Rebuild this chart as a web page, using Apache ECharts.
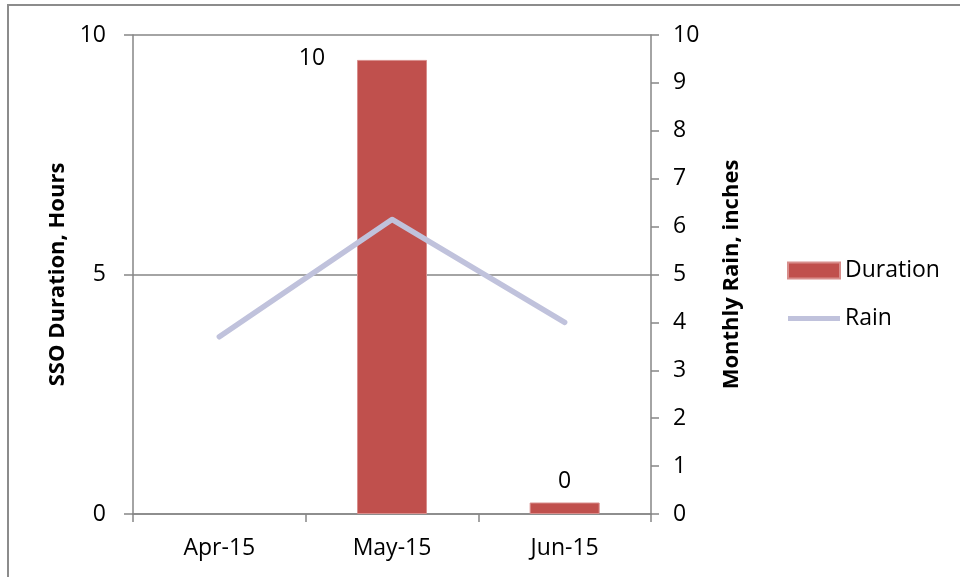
<!DOCTYPE html>
<html>
<head>
<meta charset="utf-8">
<script src="https://cdn.jsdelivr.net/npm/echarts@6/dist/echarts.min.js"></script>
<style>
html,body{margin:0;padding:0;background:#fff;}
#frame{position:absolute;left:7px;top:4px;width:960px;height:600px;border-left:2px solid #8c8c8c;border-top:2px solid #8c8c8c;}
#chart{position:absolute;left:0;top:0;width:960px;height:577px;}
</style>
</head>
<body>
<div id="frame"></div>
<div id="chart"></div>
<script>
const categories = ['Apr-15', 'May-15', 'Jun-15'];
const durationValues = [null, 9.48, 0.24];
const durationLabels = ['', '10', '0'];
const rainValues = [3.7, 6.15, 4.0];
const leftTicks = [0, 5, 10];
const rightTicks = [0, 1, 2, 3, 4, 5, 6, 7, 8, 9, 10];

const FONT = '"Open Sans", sans-serif';
const AXIS = '#868686';
const FS = 23;

const chart = echarts.init(document.getElementById('chart'), null, {renderer: 'canvas'});
const barData = durationValues.map((v, i) => {
  const item = {value: v};
  if (i === 1) item.label = {offset: [-80, 20]};
  return item;
});
chart.setOption({
  animation: false,
  backgroundColor: 'transparent',
  textStyle: {fontFamily: FONT},
  grid: {left: 133, right: 309, top: 35, bottom: 63},
  legend: {
    orient: 'vertical',
    left: 787,
    top: 259,
    padding: 0,
    itemWidth: 52,
    itemHeight: 16,
    itemGap: 25,
    textStyle: {fontFamily: FONT, fontSize: FS, color: '#000'},
    data: [
      {name: 'Duration', icon: 'rect'},
      {name: 'Rain', icon: 'path://M0,5.5 L52,5.5 L52,10.5 L0,10.5 Z'}
    ]
  },
  xAxis: {
    type: 'category',
    data: categories,
    axisLine: {lineStyle: {color: AXIS, width: 1.5}},
    axisTick: {show: true, alignWithLabel: false, length: 8, lineStyle: {color: AXIS, width: 1.5}},
    axisLabel: {fontFamily: FONT, fontSize: FS, color: '#000', margin: 23}
  },
  yAxis: [
    {
      type: 'value', min: leftTicks[0], max: leftTicks[leftTicks.length - 1], interval: 5,
      name: 'SSO Duration, Hours', nameLocation: 'middle', nameGap: 60, nameRotate: 90,
      nameTextStyle: {fontFamily: FONT, fontSize: 22, fontWeight: 'bold', color: '#000'},
      axisLine: {show: true, lineStyle: {color: AXIS, width: 1.5}},
      axisTick: {show: true, length: 9, lineStyle: {color: AXIS, width: 1.5}},
      axisLabel: {fontFamily: FONT, fontSize: FS, color: '#000', margin: 27},
      splitLine: {show: true, lineStyle: {color: AXIS, width: 1.5}}
    },
    {
      type: 'value', min: rightTicks[0], max: rightTicks[rightTicks.length - 1], interval: 1,
      position: 'right',
      name: 'Monthly Rain, inches', nameLocation: 'middle', nameGap: 70, nameRotate: 90,
      nameTextStyle: {fontFamily: FONT, fontSize: 22, fontWeight: 'bold', color: '#000'},
      axisLine: {show: true, lineStyle: {color: AXIS, width: 1.5}},
      axisTick: {show: true, length: 8, lineStyle: {color: AXIS, width: 1.5}},
      axisLabel: {fontFamily: FONT, fontSize: FS, color: '#000', margin: 22},
      splitLine: {show: false}
    }
  ],
  series: [
    {
      name: 'Duration', type: 'bar', yAxisIndex: 0,
      data: barData,
      barWidth: 70,
      itemStyle: {color: '#C0504D', borderColor: '#D88E8C', borderWidth: 1},
      label: {
        show: true, position: 'top', distance: 10,
        fontFamily: FONT, fontSize: FS, color: '#000',
        formatter: p => durationLabels[p.dataIndex]
      }
    },
    {
      name: 'Rain', type: 'line', yAxisIndex: 1,
      data: rainValues,
      symbol: 'none',
      lineStyle: {color: '#C0C2DC', width: 5.5, cap: 'round', join: 'round'},
      itemStyle: {color: '#C0C2DC'}
    }
  ]
});
</script>
</body>
</html>
